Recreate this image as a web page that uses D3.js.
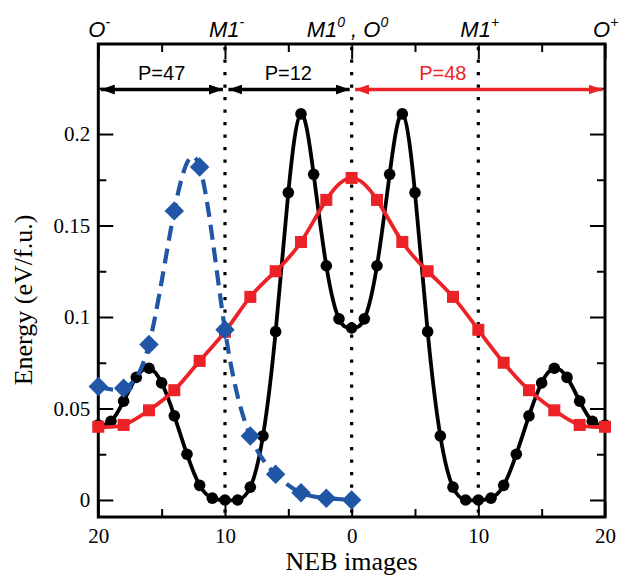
<!DOCTYPE html>
<html>
<head>
<meta charset="utf-8">
<script src="https://cdn.jsdelivr.net/npm/d3@7"></script>
<style>
  html, body { margin: 0; padding: 0; background: #fff; }
  svg { display: block; }
</style>
</head>
<body>
<svg id="chart" width="620" height="577"></svg>
<script>
// NEB energy profiles along the O- -> M1- -> M1/O0 -> M1+ -> O+ path
const blackImages = [-20,-19,-18,-17,-16,-15,-14,-13,-12,-11,-10,-9,-8,-7,-6,-5,-4,-3,-2,-1,0,
                     1,2,3,4,5,6,7,8,9,10,11,12,13,14,15,16,17,18,19,20];
const blackEnergy = [0.041,0.043,0.054,0.067,0.072,0.064,0.046,0.025,0.008,0.001,0.000,0.000,0.007,0.035,0.092,0.168,0.211,0.178,0.128,0.099,0.094,
                     0.099,0.128,0.178,0.211,0.168,0.092,0.035,0.007,0.000,0.000,0.001,0.008,0.025,0.046,0.064,0.072,0.067,0.054,0.043,0.041];

const redImages = [-20,-18,-16,-14,-12,-10,-8,-6,-4,-2,0,2,4,6,8,10,12,14,16,18,20];
const redEnergy = [0.040,0.041,0.049,0.060,0.076,0.092,0.111,0.125,0.141,0.164,0.176,
                   0.164,0.141,0.125,0.111,0.093,0.075,0.060,0.049,0.041,0.040];

const blueImages = [-20,-18,-16,-14,-12,-10,-8,-6,-4,-2,0];
const blueEnergy = [0.062,0.061,0.085,0.158,0.182,0.093,0.035,0.014,0.004,0.001,0.000];

const xMajorTicks = [-20,-10,0,10,20];
const xMinorTicks = [-15,-5,5,15];
const xTickLabels = ["20","10","0","10","20"];
const yMajorTicks = [0,0.05,0.1,0.15,0.2];
const yMinorTicks = [0.025,0.075,0.125,0.175,0.225];
const yTickLabels = ["0","0.05","0.1","0.15","0.2"];

// states marked on the top axis: [image, text pieces, horizontal offset]
const stateLabels = [
  [-20, [["O",""],["-","sup"]], -10],
  [-10, [["M1",""],["-","sup"]], -16],
  [0,   [["M1",""],["0","sup"],[" , O",""],["0","sup"]], -45],
  [10,  [["M1",""],["+","sup"]], -18],
  [20,  [["O",""],["+","sup"]], -12]
];
// path segments between states; labelAt is the image where the count is centred
const segments = [
  {from: -20, to: -10, labelAt: -15, label: "P=47", color: "#000"},
  {from: -10, to: 0,   labelAt: -5,  label: "P=12", color: "#000"},
  {from: 0,   to: 20,  labelAt: 7.2, label: "P=48", color: "#ec2227"}
];
const boundaries = [-10, 0, 10];

const RED = "#ec2227", BLUE = "#2156a6";
const svg = d3.select("#chart");
const L = 98.3, R = 605, T = 44, B = 517;

const x = d3.scaleLinear().domain([-20, 20]).range([L, R]);
const y = d3.scaleLinear().domain([-0.0093, 0.2492]).range([B, T]);

const serif = "'Liberation Serif', 'Times New Roman', serif";
const sans = "'Liberation Sans', Arial, sans-serif";

// axes with inward ticks
function styleAxis(g) {
  g.select(".domain").remove();
  g.selectAll(".tick line").attr("stroke", "#000").attr("stroke-width", 2);
  g.selectAll(".tick text").attr("font-family", serif).attr("font-size", 21).attr("fill", "#000");
}
svg.append("g").attr("transform", `translate(0,${B})`)
  .call(d3.axisBottom(x).tickValues(xMajorTicks).tickSize(-15).tickPadding(11)
    .tickFormat((d, i) => xTickLabels[i])).call(styleAxis);
svg.append("g").attr("transform", `translate(0,${B})`)
  .call(d3.axisBottom(x).tickValues(xMinorTicks).tickSize(-8).tickFormat("")).call(styleAxis);
svg.append("g").attr("transform", `translate(0,${T})`)
  .call(d3.axisTop(x).tickValues(xMajorTicks).tickSize(-15).tickFormat("")).call(styleAxis);
svg.append("g").attr("transform", `translate(0,${T})`)
  .call(d3.axisTop(x).tickValues(xMinorTicks).tickSize(-8).tickFormat("")).call(styleAxis);
svg.append("g").attr("transform", `translate(${L},0)`)
  .call(d3.axisLeft(y).tickValues(yMajorTicks).tickSize(-15).tickPadding(8)
    .tickFormat((d, i) => yTickLabels[i])).call(styleAxis);
svg.append("g").attr("transform", `translate(${L},0)`)
  .call(d3.axisLeft(y).tickValues(yMinorTicks).tickSize(-8).tickFormat("")).call(styleAxis);
svg.append("g").attr("transform", `translate(${R},0)`)
  .call(d3.axisRight(y).tickValues(yMajorTicks).tickSize(-15).tickFormat("")).call(styleAxis);
svg.append("g").attr("transform", `translate(${R},0)`)
  .call(d3.axisRight(y).tickValues(yMinorTicks).tickSize(-8).tickFormat("")).call(styleAxis);

// dotted boundaries between the charge states
svg.append("g").selectAll("line").data(boundaries).join("line")
  .attr("x1", d => x(d)).attr("x2", d => x(d))
  .attr("y1", T + 3).attr("y2", B)
  .attr("stroke", "#000").attr("stroke-width", 3.2)
  .attr("stroke-dasharray", "3.2 9.3");

// frame
svg.append("rect").attr("x", L).attr("y", T).attr("width", R - L).attr("height", B - T)
  .attr("fill", "none").attr("stroke", "#000").attr("stroke-width", 3);

// curves
const line = d3.line().x(d => x(d[0])).y(d => y(d[1])).curve(d3.curveNatural);
const blackPts = blackImages.map((v, i) => [v, blackEnergy[i]]);
const redPts = redImages.map((v, i) => [v, redEnergy[i]]);
const bluePts = blueImages.map((v, i) => [v, blueEnergy[i]]);

svg.append("path").datum(blackPts).attr("d", line)
  .attr("fill", "none").attr("stroke", "#000").attr("stroke-width", 3.8);
svg.append("g").selectAll("circle").data(blackPts).join("circle")
  .attr("cx", d => x(d[0])).attr("cy", d => y(d[1])).attr("r", 5.8).attr("fill", "#000");

svg.append("path").datum(redPts).attr("d", line)
  .attr("fill", "none").attr("stroke", RED).attr("stroke-width", 3.8);
svg.append("g").selectAll("rect").data(redPts).join("rect")
  .attr("x", d => x(d[0]) - 6).attr("y", d => y(d[1]) - 6)
  .attr("width", 12).attr("height", 12).attr("fill", RED);

svg.append("path").datum(bluePts).attr("d", line)
  .attr("fill", "none").attr("stroke", BLUE).attr("stroke-width", 4.2)
  .attr("stroke-dasharray", "15 8");
svg.append("g").selectAll("path").data(bluePts).join("path")
  .attr("d", d3.symbol(d3.symbolSquare, 190))
  .attr("transform", d => `translate(${x(d[0])},${y(d[1])}) rotate(45)`)
  .attr("fill", BLUE);

// state labels above the frame
stateLabels.forEach(([pos, parts, off]) => {
  const t = svg.append("text").attr("x", x(pos) + off).attr("y", 37)
    .attr("font-family", sans).attr("font-style", "italic").attr("font-size", 22).attr("fill", "#000");
  let raised = false;
  parts.forEach(([s, kind]) => {
    const ts = t.append("tspan").text(s);
    if (kind === "sup" && !raised) { ts.attr("dy", -10).attr("font-size", 14); raised = true; }
    else if (kind === "sup") { ts.attr("font-size", 14); }
    else if (raised) { ts.attr("dy", 10); raised = false; }
  });
});

// double-headed arrows with path counts
const AY = 89.5;
const defs = svg.append("defs");
function head(id, color) {
  defs.append("marker").attr("id", id).attr("viewBox", "0 0 14 10")
    .attr("refX", 14).attr("refY", 5).attr("markerWidth", 14).attr("markerHeight", 10)
    .attr("markerUnits", "userSpaceOnUse").attr("orient", "auto-start-reverse")
    .append("path").attr("d", "M0,0 L14,5 L0,10 Z").attr("fill", color);
}
head("hb", "#000");
head("hr", RED);
segments.forEach(s => {
  const id = s.color === "#000" ? "hb" : "hr";
  const x1 = x(s.from) + (s.from === -20 ? 2.5 : 3.5);
  const x2 = x(s.to) - (s.to === 20 ? 2.5 : 2);
  svg.append("line").attr("x1", x1).attr("x2", x2).attr("y1", AY).attr("y2", AY)
    .attr("stroke", s.color).attr("stroke-width", 3.3)
    .attr("marker-start", `url(#${id})`).attr("marker-end", `url(#${id})`);
  svg.append("text").attr("x", x(s.labelAt)).attr("y", 80)
    .attr("text-anchor", "middle").attr("font-family", sans).attr("font-size", 20)
    .attr("fill", s.color).text(s.label);
});

// axis titles
svg.append("text").attr("transform", "translate(32,300) rotate(-90)")
  .attr("text-anchor", "middle").attr("font-family", serif).attr("font-size", 26)
  .text("Energy (eV/f.u.)");
svg.append("text").attr("x", x(0)).attr("y", 570)
  .attr("text-anchor", "middle").attr("font-family", serif).attr("font-size", 26)
  .text("NEB images");
</script>
</body>
</html>
